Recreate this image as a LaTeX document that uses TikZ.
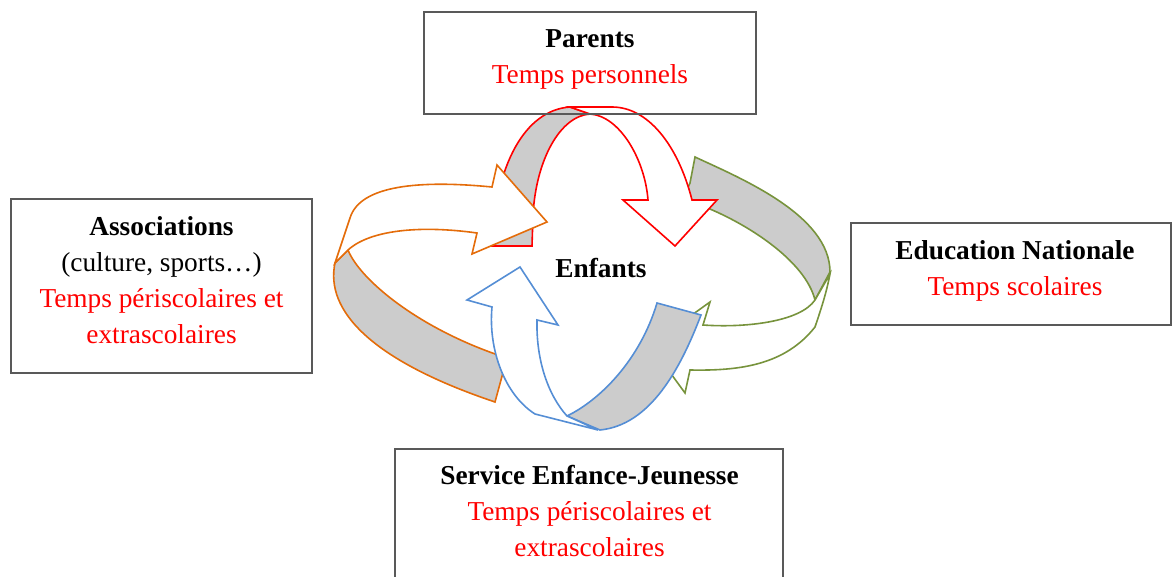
\documentclass[tikz,border=0pt]{standalone}
\usepackage{fontspec}
\setmainfont{Liberation Serif}
\definecolor{cRed}{RGB}{255,0,0}
\definecolor{cOrange}{RGB}{228,108,10}
\definecolor{cGreen}{RGB}{119,147,60}
\definecolor{cBlue}{RGB}{85,142,213}
\definecolor{cGray}{RGB}{204,204,204}
\definecolor{cBox}{RGB}{89,89,89}
\begin{document}
\begin{tikzpicture}[x=0.75pt,y=-0.75pt,
  backpart/.style={fill=cGray, line width=1.2pt, line join=miter},
  frontpart/.style={fill=white, line width=1.2pt, line join=miter},
  boxnode/.style={draw=cBox, line width=0.8pt, inner sep=0pt},
  txt/.style={align=center, inner sep=0pt, font=\fontsize{20.5}{27}\selectfont}]
\useasboundingbox (0,0) rectangle (1172,577);

% green arrow (Education Nationale)
\path[backpart, draw=cGreen] (695,157) .. controls (740,178) and (830,215) .. (830,272)
  -- (815,300) .. controls (805,260) and (745,222) .. (700,205) -- (680,205) -- (690,183) -- cycle;
\path[frontpart, draw=cGreen] (815,300) -- (830,274) .. controls (826,295) and (820,312) .. (815,327)
  .. controls (785,365) and (740,371) .. (690,370) -- (685,393) -- (650,345) -- (710,302) -- (703,325)
  .. controls (745,328) and (800,322) .. (815,300) -- cycle;

% red arrow (Parents)
\path[backpart, draw=cRed] (570,107) .. controls (525,110) and (495,165) .. (492,246)
  -- (532,246) -- (533,215) .. controls (536,160) and (560,116) .. (590,114) -- cycle;
\path[frontpart, draw=cRed] (570,107) -- (612,107) .. controls (648,107) and (678,145) .. (692,200)
  -- (717,200) -- (675,246) -- (623,200) -- (648,200) .. controls (645,160) and (620,116) .. (590,114) -- cycle;

% orange arrow (Associations)
\path[backpart, draw=cOrange] (335,263) .. controls (325,310) and (370,360) .. (495,402)
  -- (507,358) .. controls (420,330) and (360,280) .. (348,250) -- cycle;
\path[frontpart, draw=cOrange] (348,250) .. controls (370,230) and (420,225) .. (477,233)
  -- (472,254) -- (547,222) -- (497,165) -- (492,187) .. controls (420,180) and (360,185) .. (350,218)
  -- (335,263) -- cycle;

% blue arrow (Service Enfance-Jeunesse)
\path[backpart, draw=cBlue] (657,303) -- (701,315) .. controls (680,370) and (650,425) .. (600,430)
  -- (567,416) .. controls (600,400) and (640,360) .. (657,303) -- cycle;
\path[frontpart, draw=cBlue] (492,307) .. controls (488,350) and (505,395) .. (535,414)
  -- (598,430) -- (567,416) .. controls (548,395) and (536,360) .. (537,320)
  -- (558,325) -- (520,267) -- (467,300) -- cycle;

% centre
\node[txt] (enfants) at (601,268) {\textbf{Enfants}};

% boxes
\node[boxnode, minimum width=249pt, minimum height=76.5pt] (parents) at (590,63) {};
\node[txt] (parentsT) at (590,59) {\textbf{Parents}\\\textcolor{cRed}{Temps personnels}};

\node[boxnode, minimum width=225.75pt, minimum height=130.5pt] (assoc) at (161.5,286) {};
\node[txt] (assocT) at (161.5,280) {\textbf{Associations}\\(culture, sports…)\\\textcolor{cRed}{Temps périscolaires et}\\\textcolor{cRed}{extrascolaires}};

\node[boxnode, minimum width=240pt, minimum height=76.5pt] (educ) at (1011,274) {};
\node[txt] (educT) at (1015,270.5) {\textbf{Education Nationale}\\\textcolor{cRed}{Temps scolaires}};

\node[boxnode, minimum width=291pt, minimum height=113.25pt] (service) at (589,524.5) {};
\node[txt] (serviceT) at (589.5,511) {\textbf{Service Enfance-Jeunesse}\\\textcolor{cRed}{Temps périscolaires et}\\\textcolor{cRed}{extrascolaires}};
\end{tikzpicture}
\end{document}
